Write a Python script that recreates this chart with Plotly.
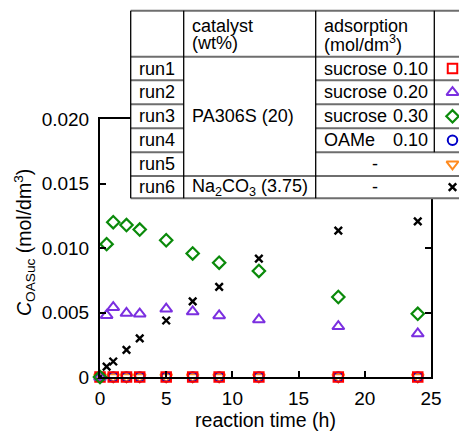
import plotly.graph_objects as go

# The page body has an 8px margin; the figure is sized to fill the rest of the window.
WIN_W, WIN_H, OFF = 467, 434, 8
W, H = WIN_W - OFF, WIN_H - OFF

# ---------------- data ----------------
t_short = [0, 1, 2, 3, 5, 7, 9, 12, 18, 24]
t_long = [0, 0.5, 1, 2, 3, 5, 7, 9, 12, 18, 24]

run1 = [0, 0, 0, 0, 0, 0, 0, 0, 0, 0]
run4 = [0, 0, 0, 0, 0, 0, 0, 0, 0, 0]
run5 = [0, 0, 0, 0, 0, 0, 0, 0, 0, 0]
run2 = [0, 0.00478, 0.00540, 0.00495, 0.00490, 0.00528, 0.00506, 0.00476, 0.00444, 0.00392, 0.00336]
run3 = [0, 0.01030, 0.01200, 0.01178, 0.01143, 0.01060, 0.00958, 0.00886, 0.00822, 0.00620, 0.00490]
run6 = [0, 0.00080, 0.00120, 0.00210, 0.00300, 0.00438, 0.00586, 0.00698, 0.00917, 0.01134, 0.01206]

x_ticks = [0, 5, 10, 15, 20, 25]
y_ticks = [0, 0.005, 0.010, 0.015, 0.020]
y_ticktext = ["0", "0.005", "0.010", "0.015", "0.020"]

run_names = ["run1", "run2", "run3", "run4", "run5", "run6"]
ads_names = ["sucrose", "sucrose", "sucrose", "OAMe"]
ads_values = ["0.10", "0.20", "0.30", "0.10"]
catalyst_labels = ["PA306S (20)", "Na<sub>2</sub>CO<sub>3</sub> (3.75)"]
header_catalyst = ["catalyst", "(wt%)"]
header_ads = ["adsorption", "(mol/dm<sup>3</sup>)"]

# ---------------- styles ----------------
FONT = "Liberation Sans, Arial, Helvetica, sans-serif"
colors = {"run1": "#ff0000", "run2": "#7b2fe0", "run3": "#0a8a0a",
          "run4": "#0000c8", "run5": "#ff8a1e", "run6": "#000000"}
symbols = {"run1": "square-open", "run2": "triangle-up-open", "run3": "diamond-open",
           "run4": "circle-open", "run5": "triangle-down-open", "run6": "x-thin-open"}
sizes = {"run1": 9.5, "run2": 10.5, "run3": 9.5, "run4": 9.5, "run5": 10.5, "run6": 7.5}
lw = {"run1": 2, "run2": 2, "run3": 2.2, "run4": 2, "run5": 2, "run6": 2.4}

# plot area in window pixels
PL, PR, PT, PB = 100, 431, 119, 377

fig = go.Figure()

series = [("run5", t_short, run5), ("run4", t_short, run4), ("run1", t_short, run1),
          ("run6", t_long, run6), ("run2", t_long, run2), ("run3", t_long, run3)]
for name, xs, ys in series:
    fig.add_trace(go.Scatter(
        x=xs, y=ys, mode="markers", name=name, cliponaxis=False, showlegend=False,
        marker=dict(symbol=symbols[name], size=sizes[name], color=colors[name],
                    line=dict(color=colors[name], width=lw[name])),
        xaxis="x", yaxis="y"))

# ---------------- table (window-pixel coordinate overlay x2/y2) ----------------
TL, TR, TT, TB = 130.7, 470, 10.7, 198.3
c1, c2, c3 = 183.7, 315.7, 434.3
hdr = 56.7
rows = [56.7, 80.3, 104.3, 128.3, 152.3, 176.0, 198.3]

# white background of table (covers the frame behind it)
fig.add_trace(go.Scatter(x=[TL, TR, TR, TL, TL], y=[TT, TT, TB, TB, TT], mode="lines",
                         fill="toself", fillcolor="white", line=dict(width=0),
                         hoverinfo="skip", showlegend=False, xaxis="x2", yaxis="y2"))

# legend markers in table
mark_x = 452.5
for i, name in enumerate(run_names):
    yc = (rows[i] + rows[i + 1]) / 2
    fig.add_trace(go.Scatter(
        x=[mark_x], y=[yc], mode="markers", showlegend=False, cliponaxis=False,
        marker=dict(symbol=symbols[name], size=sizes[name], color=colors[name],
                    line=dict(color=colors[name], width=lw[name])),
        xaxis="x2", yaxis="y2"))

shapes = []
HC, HW = "#6e6e6e", 2
VC, VW = "#000000", 1.3


def hline(x0, x1, y):
    shapes.append(dict(type="line", xref="x2", yref="y2", x0=x0, x1=x1, y0=y, y1=y,
                       line=dict(color=HC, width=HW), layer="above"))


def vline(x, y0, y1):
    shapes.append(dict(type="line", xref="x2", yref="y2", x0=x, x1=x, y0=y0, y1=y1,
                       line=dict(color=VC, width=VW), layer="above"))


hline(TL, TR, TT)
hline(TL, TR, hdr)
for r in rows[1:5]:
    hline(TL, c1, r)
    hline(c2, TR, r)
hline(TL, TR, rows[5])
hline(TL, TR, rows[6])
vline(TL, TT, TB)
vline(c1, TT, TB)
vline(c2, TT, TB)
vline(c3, TT, rows[4])

ann = []
TFS = 18


def text(x, y, s, anchor="left", size=TFS):
    ann.append(dict(x=x, y=y, xref="x2", yref="y2", text=s, showarrow=False,
                    xanchor=anchor, yanchor="middle",
                    font=dict(family=FONT, size=size, color="black")))


text(189.5, 25.5, header_catalyst[0])
text(189.5, 43, header_catalyst[1])
text(321.5, 25.5, header_ads[0])
text(321.5, 43, header_ads[1])
for i, name in enumerate(run_names):
    yc = (rows[i] + rows[i + 1]) / 2
    text((TL + c1) / 2, yc, name, anchor="center")
text(189.5, (rows[2] + rows[3]) / 2, catalyst_labels[0])
text(189.5, (rows[5] + rows[6]) / 2, catalyst_labels[1])
for i in range(4):
    yc = (rows[i] + rows[i + 1]) / 2
    text(321.5, yc, ads_names[i])
    text(430, yc, ads_values[i], anchor="right")
for i in (4, 5):
    yc = (rows[i] + rows[i + 1]) / 2
    text((c2 + c3) / 2, yc, "-", anchor="center")

# y-axis title
ann.append(dict(x=24, y=243, xref="x2", yref="y2", showarrow=False, textangle=-90,
                text="<i>C</i><sub>OASuc</sub> (mol/dm<sup>3</sup>)",
                xanchor="center", yanchor="middle",
                font=dict(family=FONT, size=19.5, color="black")))

axis_common = dict(showline=True, linewidth=2, linecolor="black", mirror="ticks",
                   ticks="inside", ticklen=6, tickwidth=2, tickcolor="black",
                   showgrid=False, zeroline=False, automargin=False,
                   tickfont=dict(family=FONT, size=19, color="black"))

fig.update_layout(
    template="none",
    width=W, height=H, autosize=False,
    margin=dict(l=0, r=0, t=0, b=0, pad=0, autoexpand=False),
    font=dict(family=FONT, color="black"),
    paper_bgcolor="white", plot_bgcolor="rgba(0,0,0,0)",
    showlegend=False,
    xaxis=dict(domain=[(PL - OFF) / W, (PR - OFF) / W], range=[0, 25], tickvals=x_ticks,
               anchor="y",
               title=dict(text="reaction time (h)", standoff=6,
                          font=dict(family=FONT, size=19.5, color="black")),
               ticklabelstandoff=3, **axis_common),
    yaxis=dict(domain=[(WIN_H - PB) / H, (WIN_H - PT) / H], range=[0, 0.020],
               tickvals=y_ticks, ticktext=y_ticktext, anchor="x", ticklabelstandoff=5,
               **axis_common),
    xaxis2=dict(domain=[0, 1], range=[OFF, WIN_W], visible=False, anchor="y2",
                fixedrange=True, automargin=False),
    yaxis2=dict(domain=[0, 1], range=[WIN_H, OFF], visible=False, anchor="x2",
                fixedrange=True, automargin=False),
    shapes=shapes,
    annotations=ann,
)

fig.write_html("out.html")
